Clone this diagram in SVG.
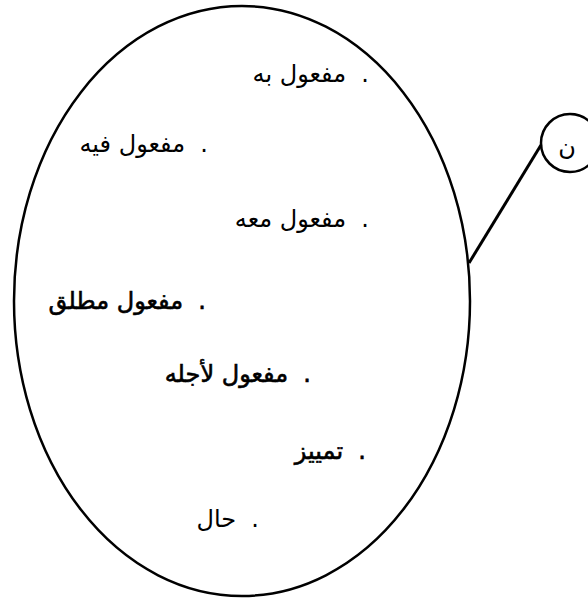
<svg xmlns="http://www.w3.org/2000/svg" width="588" height="603" viewBox="0 0 588 603">
<style>
.shape{fill:none;stroke:#000}
.lbl{font-family:"DejaVu Sans",sans-serif;font-size:24px;fill:#000;direction:rtl}
.heavy{stroke:#000;stroke-width:0.6}
</style>
<rect width="588" height="603" fill="#fff"/>
<g id="connectors">
<line x1="469" y1="263" x2="541" y2="145" stroke="#000" stroke-width="3"/>
</g>
<g id="node-set">
<ellipse class="shape" cx="242" cy="301" rx="228" ry="295" stroke-width="2.5"/>
<text class="lbl" x="369" y="82" direction="rtl">.&#160; مفعول به</text>
<text class="lbl" x="208" y="152" direction="rtl">.&#160; مفعول فيه</text>
<text class="lbl" x="369" y="227" direction="rtl">.&#160; مفعول معه</text>
<text class="lbl heavy" x="206" y="309" direction="rtl">.&#160; مفعول مطلق</text>
<text class="lbl heavy" x="311" y="382" direction="rtl">.&#160; مفعول لأجله</text>
<text class="lbl heavy" x="366" y="459" direction="rtl">.&#160; تمييز</text>
<text class="lbl" x="259" y="527" direction="rtl">.&#160; حال</text>
</g>
<g id="node-noon">
<circle class="shape" cx="570" cy="143" r="29" stroke-width="2.5"/>
<text class="lbl" x="567" y="155" text-anchor="middle" direction="ltr">ن</text>
</g>
</svg>
